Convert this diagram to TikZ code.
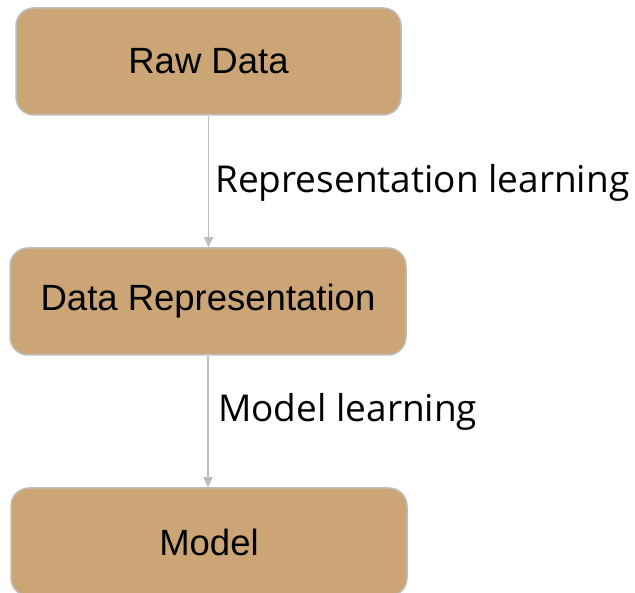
\documentclass[tikz,border=0pt]{standalone}
\usepackage{fontspec}
\setmainfont{Liberation Sans}
\newfontfamily\labelfont{Open Sans}
\usetikzlibrary{arrows.meta}
\definecolor{boxfill}{HTML}{CBA575}
\definecolor{boxline}{HTML}{BDBDBD}
\begin{document}
\begin{tikzpicture}[x=1pt,y=-1pt,
    stagebox/.style={draw=boxline,line width=1.5pt,fill=boxfill,rounded corners=18pt,inner sep=0pt,font=\fontsize{36.5}{40}\selectfont},
    flow/.style={draw=boxline,line width=1.8pt,-{Triangle[width=9pt,length=10pt]}},
    steplabel/.style={anchor=base west,inner sep=0pt,font=\labelfont\fontsize{37}{40}\selectfont}]
        \useasboundingbox (0,0) rectangle (635,593);
        \clip (0,0) rectangle (635,593);
        % box
        \node [stagebox,minimum width=385pt,minimum height=107pt] (raw) at (208.5,61.5) {Raw Data};
        \node [stagebox,minimum width=396pt,minimum height=107pt] (rep) at (208,301.5) {Data Representation};
        \node [stagebox,minimum width=396pt,minimum height=108pt] (model) at (209,542) {Model};
        % line
        \draw [flow] (raw.south) -- (raw.south |- rep.north);
        \draw [flow] (rep.south) -- (rep.south |- model.north);
        % lecter
        \node [steplabel] (replearn) at (215,193) {Representation learning};
        \node [steplabel] (modlearn) at (218,422) {Model learning};
    \end{tikzpicture}
\end{document}
